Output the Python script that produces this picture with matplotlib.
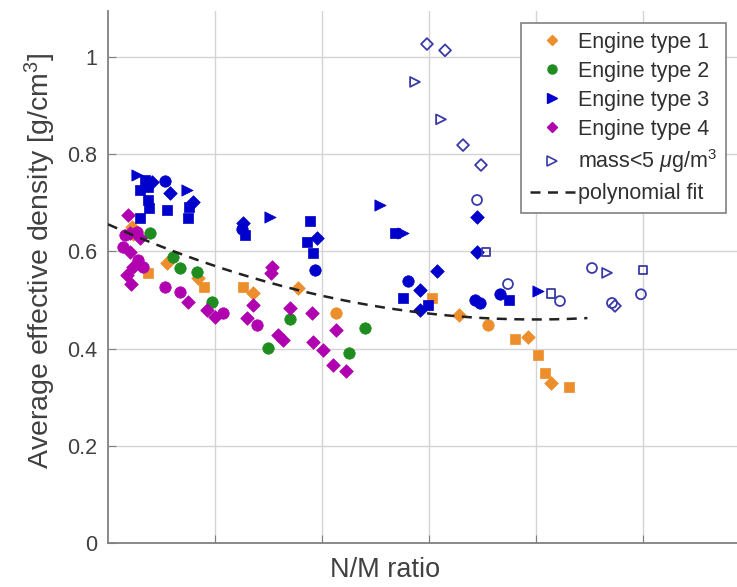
import numpy as np
import matplotlib.pyplot as plt
from matplotlib.lines import Line2D

plt.rcParams['font.family'] = ['Liberation Sans', 'DejaVu Sans']
plt.rcParams['mathtext.fontset'] = 'custom'
plt.rcParams['mathtext.rm'] = 'Liberation Sans'
plt.rcParams['mathtext.it'] = 'Liberation Sans:italic'

# shape codes: d = diamond, o = circle, s = square, t = right triangle
eng1_x = [0.224, 0.234, 0.374, 0.551, 0.841, 0.897, 1.262, 1.355, 1.776, 2.131,
          3.028, 3.280, 3.551, 3.804, 3.925, 4.019, 4.084, 4.140, 4.308]
eng1_y = [0.650, 0.636, 0.556, 0.576, 0.545, 0.527, 0.527, 0.514, 0.525, 0.473,
          0.504, 0.469, 0.449, 0.420, 0.424, 0.387, 0.350, 0.329, 0.321]
eng1_shape = ['d', 'd', 's', 'd', 'd', 's', 's', 'd', 'd', 'o',
              's', 'd', 'o', 's', 'd', 's', 's', 'd', 's']

eng2_x = [0.393, 0.607, 0.673, 0.832, 0.972, 1.701, 1.495, 2.402, 2.252]
eng2_y = [0.638, 0.588, 0.566, 0.558, 0.496, 0.461, 0.401, 0.442, 0.391]
eng2_shape = ['o'] * 9

eng3_x = [0.271, 0.346, 0.411, 0.374, 0.299, 0.533, 0.579, 0.374, 0.383, 0.299,
          0.551, 0.738, 0.794, 0.757, 0.748, 1.262, 1.252, 1.280, 1.514, 1.888,
          1.860, 1.953, 1.916, 1.935, 2.542, 2.682, 2.757, 3.075, 2.804, 2.916,
          2.757, 2.916, 2.991, 3.449, 3.449, 3.430, 3.477, 3.664, 3.748, 4.019]
eng3_y = [0.757, 0.747, 0.743, 0.733, 0.726, 0.745, 0.720, 0.706, 0.689, 0.669,
          0.685, 0.726, 0.702, 0.691, 0.669, 0.658, 0.646, 0.634, 0.671, 0.663,
          0.619, 0.628, 0.597, 0.562, 0.695, 0.638, 0.638, 0.560, 0.539, 0.521,
          0.504, 0.479, 0.490, 0.671, 0.599, 0.500, 0.494, 0.512, 0.500, 0.519]
eng3_shape = ['t', 's', 'd', 's', 's', 'o', 'd', 's', 's', 's',
              's', 't', 'd', 's', 's', 'd', 'o', 's', 't', 's',
              's', 'd', 's', 'o', 't', 's', 't', 'd', 'o', 'd',
              's', 'd', 's', 'd', 'd', 'o', 'o', 'o', 's', 't']

eng4_x = [0.187, 0.159, 0.206, 0.271, 0.299, 0.140, 0.206, 0.280, 0.234, 0.327,
          0.178, 0.215, 0.533, 0.673, 0.748, 0.925, 1.000, 1.075, 1.299, 1.393,
          1.533, 1.523, 1.355, 1.589, 1.636, 1.701, 1.907, 1.916, 2.009, 2.131,
          2.103, 2.224]
eng4_y = [0.675, 0.634, 0.638, 0.640, 0.628, 0.609, 0.599, 0.582, 0.568, 0.568,
          0.551, 0.533, 0.527, 0.516, 0.496, 0.479, 0.465, 0.473, 0.463, 0.449,
          0.568, 0.556, 0.490, 0.428, 0.418, 0.484, 0.473, 0.414, 0.397, 0.438,
          0.366, 0.354]
eng4_shape = ['d', 'o', 'd', 'o', 'd', 'o', 'd', 'o', 'd', 'o',
              'd', 'd', 'o', 'o', 'd', 'd', 'd', 'o', 'd', 'o',
              'd', 'd', 'd', 'd', 'd', 'd', 'd', 'd', 'd', 'd',
              'd', 'd']

low_x = [2.981, 3.150, 2.869, 3.112, 3.318, 3.486, 3.449, 3.533, 3.738, 4.140,
         4.224, 4.523, 4.664, 4.710, 4.738, 5.000, 4.981]
low_y = [1.027, 1.014, 0.949, 0.872, 0.819, 0.778, 0.706, 0.599, 0.533, 0.514,
         0.498, 0.566, 0.556, 0.494, 0.488, 0.562, 0.512]
low_shape = ['d', 'd', 't', 't', 'd', 'd', 'o', 's', 'o', 's',
             'o', 'o', 't', 'o', 'd', 's', 'o']

# quadratic fit coefficients (highest power first)
fit_coef = [0.01228, -0.0981, 0.656]
fit_range = [0.0, 4.48]

labels = ['Engine type 1', 'Engine type 2', 'Engine type 3', 'Engine type 4',
          'mass<5 $\\mu$g/m$^3$', 'polynomial fit']

markers = {'d': 'D', 'o': 'o', 's': 's', 't': '>'}
sizes = {'d': 48, 'o': 68, 's': 52, 't': 66}
c1, c2, c3, c4, c5 = '#EC8E2C', '#1E8C1E', '#0000CC', '#B000B0', '#3A3AA8'

fig = plt.figure(figsize=(7.37, 5.87), dpi=100)
ax = fig.add_axes([108 / 737, 44 / 587, 642 / 737, 532 / 587])


def draw(xs, ys, shapes, color, filled=True):
    xs, ys = np.array(xs), np.array(ys)
    shapes = np.array(shapes)
    for k in markers:
        m = shapes == k
        if not m.any():
            continue
        if filled:
            ax.scatter(xs[m], ys[m], marker=markers[k], s=sizes[k], c=color,
                       edgecolors=color, linewidths=0.5, zorder=3)
        else:
            ax.scatter(xs[m], ys[m], marker=markers[k], s=sizes[k] * 0.75,
                       facecolors='none', edgecolors=color, linewidths=1.3, zorder=3)


draw(eng1_x, eng1_y, eng1_shape, c1)
draw(eng2_x, eng2_y, eng2_shape, c2)
draw(eng3_x, eng3_y, eng3_shape, c3)
draw(eng4_x, eng4_y, eng4_shape, c4)
draw(low_x, low_y, low_shape, c5, filled=False)

xf = np.linspace(fit_range[0], fit_range[1], 200)
ax.plot(xf, np.polyval(fit_coef, xf), '--', color='#222222', lw=1.8,
        dashes=(4, 3), zorder=4)

ax.set_xlim(0, 6)
ax.set_ylim(0, 1.095)
ax.set_xticks([1, 2, 3, 4, 5])
ax.set_xticklabels([])
ax.set_yticks([0, 0.2, 0.4, 0.6, 0.8, 1])
ax.set_yticklabels(['0', '0.2', '0.4', '0.6', '0.8', '1'])
ax.grid(True, color='#d4d4d4', lw=1)
ax.set_axisbelow(True)
ax.tick_params(direction='in', length=6, colors='#808080', labelcolor='#404040',
               labelsize=15.5, pad=8)
for side in ['top', 'right']:
    ax.spines[side].set_visible(False)
for side in ['left', 'bottom']:
    ax.spines[side].set_color('#808080')
    ax.spines[side].set_linewidth(1.3)

ax.set_ylabel('Average effective density [g/cm$^3$]', fontsize=20.5, color='#404040')
ax.yaxis.set_label_coords(-0.078, 0.53)
ax.set_xlabel('N/M ratio', fontsize=19.5, color='#404040')
ax.xaxis.set_label_coords(0.431, -0.026)

handles = [
    Line2D([], [], ls='none', marker='D', ms=5.5, color=c1),
    Line2D([], [], ls='none', marker='o', ms=6.5, color=c2),
    Line2D([], [], ls='none', marker='>', ms=6.5, color=c3),
    Line2D([], [], ls='none', marker='D', ms=5.5, color=c4),
    Line2D([], [], ls='none', marker='>', ms=6.5, mfc='none', mec=c5, mew=1.2),
    Line2D([], [], ls='--', color='#222222', lw=1.8, dashes=(4, 3)),
]
leg = fig.legend(handles, labels, loc='upper left', bbox_to_anchor=(521 / 737, 564 / 587),
                 bbox_transform=fig.transFigure, fontsize=15.5, frameon=True,
                 fancybox=False, framealpha=1, edgecolor='#808080', labelspacing=0.37,
                 handlelength=2.1, handletextpad=0.15, borderpad=0.4, borderaxespad=0)
leg.get_frame().set_linewidth(1.2)
for t in leg.get_texts():
    t.set_color('#303030')

fig.savefig('out.png', dpi=100)
